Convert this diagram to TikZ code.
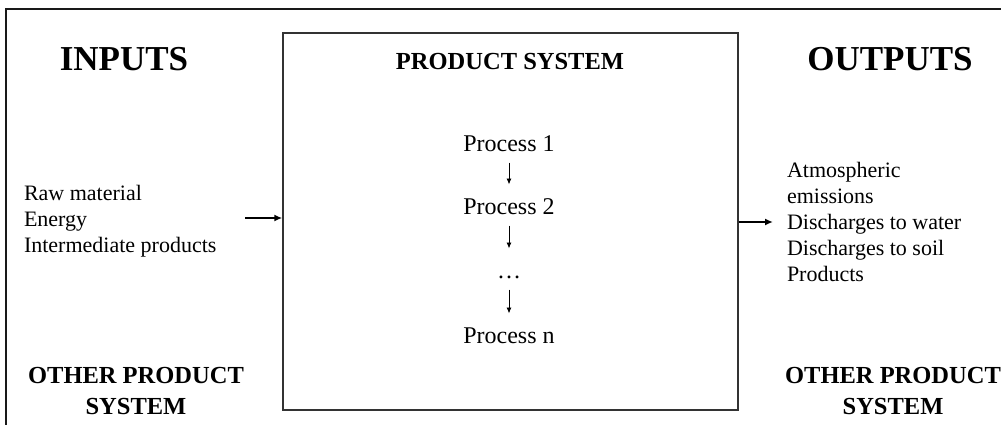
\documentclass[tikz,border=0pt]{standalone}
\usepackage{fontspec}
\setmainfont{Liberation Serif}
\usetikzlibrary{arrows.meta}

\definecolor{framecolor}{rgb}{0.100000, 0.100000, 0.100000}
\definecolor{boxcolor}{rgb}{0.200000, 0.200000, 0.200000}
\tikzset{
  heading/.style={anchor=base, inner sep=0pt, outer sep=0pt, font=\bfseries\fontsize{35}{40}\selectfont},
  subheading/.style={anchor=base, inner sep=0pt, outer sep=0pt, align=center, font=\bfseries\fontsize{24.5}{31}\selectfont},
  listtext/.style={anchor=base west, inner sep=0pt, outer sep=0pt, align=left, font=\fontsize{22}{26}\selectfont},
  proc/.style={anchor=base, inner sep=0pt, outer sep=0pt, text height=16pt, text depth=0pt, font=\fontsize{24}{28}\selectfont},
  procarrow/.style={-{Latex[length=6pt,width=5pt]}, line width=0.9pt, shorten <=11.5pt, shorten >=13.5pt},
  flowarrow/.style={-{Latex[length=8pt,width=7pt]}, line width=1.8pt},
}

\begin{document}
\begin{tikzpicture}[x=1pt,y=-1pt]
\useasboundingbox (0,0) rectangle (1001,425);
\clip (0,0) rectangle (1001,425);
% frame, cut at right and bottom
\draw[framecolor, line width=1.5pt] (6,440) |- (1020,9);
\node[draw=boxcolor, line width=1.4pt, inner sep=0pt, minimum width=455pt, minimum height=377pt] (sys) at (510.5,221.5) {};

\node[heading] (inputs) at (124,71) {INPUTS};
\node[heading] (outputs) at (890,71) {OUTPUTS};
\node[subheading] (systitle) at (510,70) {PRODUCT SYSTEM};

\node[proc] (p1) at (509,151) {Process 1};
\node[proc] (p2) at (509,214) {Process 2};
\node[proc] (pdots) at (509,278) {\dots};
\node[proc] (pn) at (509,343) {Process n};
\draw[procarrow] (p1.south) -- (p2.north);
\draw[procarrow] (p2.south) -- (pdots.north);
\draw[procarrow] (pdots.south) -- (pn.north);

% multi-line nodes sit on their last line
\node[listtext] (inlist) at (24,252) {Raw material\\Energy\\Intermediate products};
\node[listtext] (outlist) at (787,281) {Atmospheric\\emissions\\Discharges to water\\Discharges to soil\\Products};

\node[subheading] (otherin) at (136,414) {OTHER PRODUCT\\SYSTEM};
\node[subheading] (otherout) at (893,414) {OTHER PRODUCT\\SYSTEM};

\coordinate (instart) at (245,218);
\draw[flowarrow] (instart) -- (instart -| sys.west);
\coordinate (outend) at (773,222);
\draw[flowarrow] (outend -| sys.east) -- (outend);
\end{tikzpicture}
\end{document}
